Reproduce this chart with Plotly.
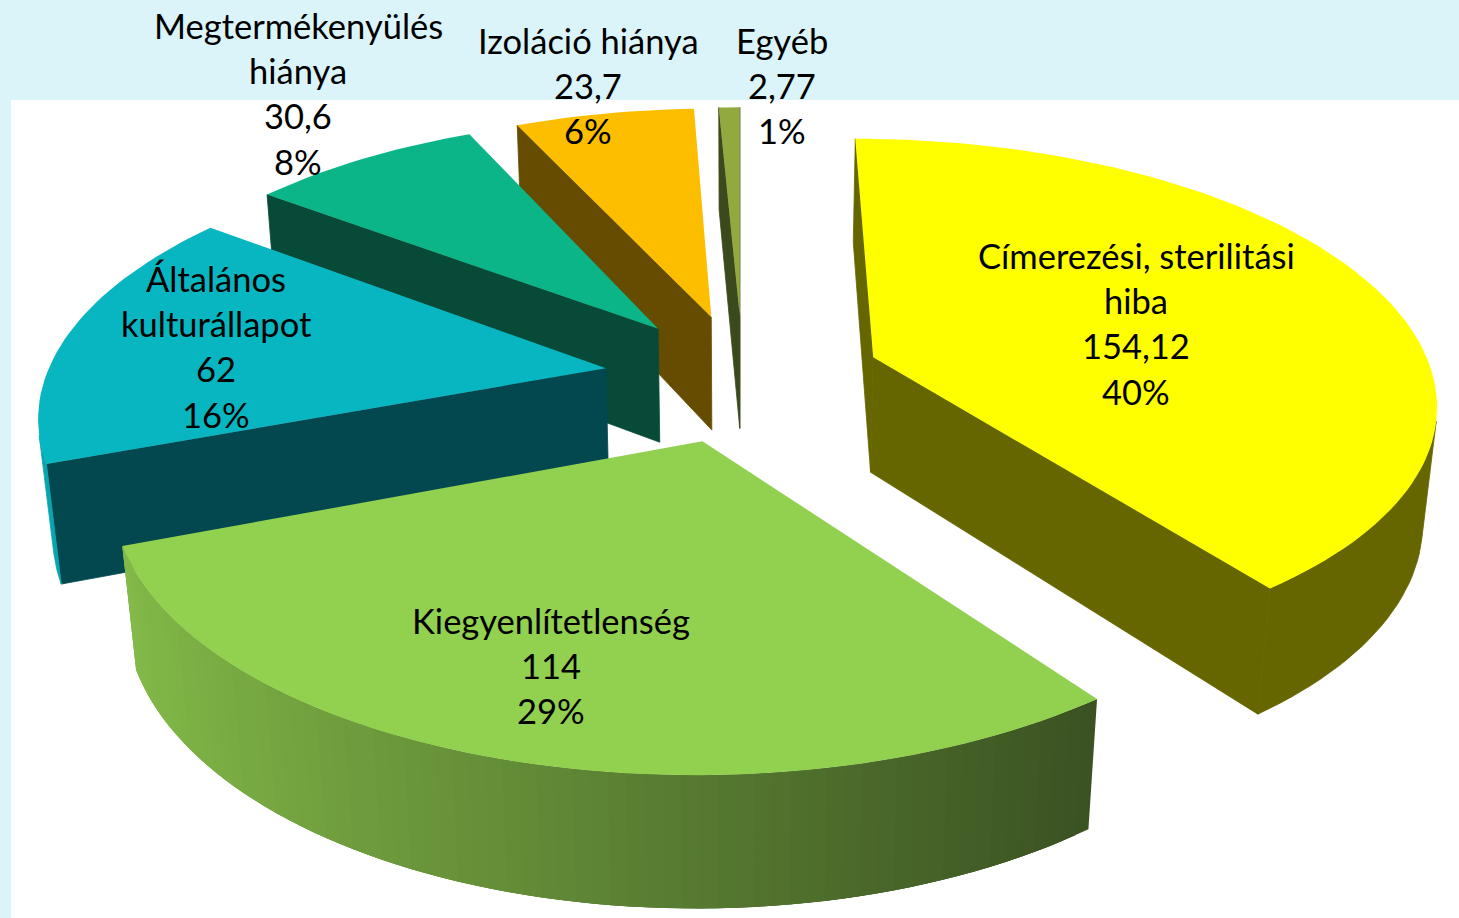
import numpy as np
import plotly.graph_objects as go

# --- data ---
categories = ["Címerezési, sterilitási|hiba", "Kiegyenlítetlenség", "Általános|kulturállapot",
              "Megtermékenyülés|hiánya", "Izoláció hiánya", "Egyéb"]
values = [154.12, 114, 62, 30.6, 23.7, 2.77]

# --- styles ---
top_colors = ["#FFFF00", "#92D050", "#08B6C1", "#0BB587", "#FDBE00", "#92A93F"]
wall_colors = ["#666600", "#3B5222", "#03474F", "#084A38", "#664C00", "#3B4A1C"]
arc_colors = ["#666600", None, "#07A5B0", "#084A38", "#664C00", "#3B4A1C"]
label_pos = [(1136, 255), (551, 620), (216, 278), (298, 25), (588, 40), (782, 40)]
draw_order = [5, 4, 3, 2, 0, 1]
LINE_H = 45.4
FONT = "Lato"
FONT_SIZE = 34.5

# --- 3D pie geometry (pinhole camera) ---
F = 3113.0
THETA = np.radians(29.0)
PX, PY = 740.0, 459.0
D = 3113.0
COS, SIN = np.cos(THETA), np.sin(THETA)
R, PULL, DEPTH = 588.0, 146.0, 140.0
CX, CY = 3.0, 177.0
CAM = np.array([0.0, -D * COS, D * SIN])


def project(x, y, z):
    depth = D + y * COS - z * SIN
    up = y * SIN + z * COS
    return PX + F * x / depth, PY - F * up / depth


def facing(normal, point):
    return np.dot(normal, CAM - np.array(point)) > 0


fig = go.Figure()


def poly(points, color, edge=0.0):
    xy = [project(*p) for p in points]
    xs = [a for a, _ in xy] + [xy[0][0]]
    ys = [b for _, b in xy] + [xy[0][1]]
    fig.add_trace(go.Scatter(x=xs, y=ys, mode="lines", fill="toself", fillcolor=color,
                             line=dict(color=color, width=edge), hoverinfo="skip",
                             showlegend=False))


def mix(c1, c2, t):
    a = [int(c1[i:i + 2], 16) for i in (1, 3, 5)]
    b = [int(c2[i:i + 2], 16) for i in (1, 3, 5)]
    return "#%02X%02X%02X" % tuple(int(round(u + (v - u) * t)) for u, v in zip(a, b))


total = sum(values)
edges = np.concatenate([[0.0], np.cumsum(values)]) / total * 2 * np.pi

for i in draw_order:
    a0, a1 = edges[i], edges[i + 1]
    mid = (a0 + a1) / 2
    ax, ay = CX + PULL * np.sin(mid), CY + PULL * np.cos(mid)
    n = max(4, int(np.degrees(a1 - a0) / 1.5))
    angs = np.linspace(a0, a1, n + 1)
    rim = [(ax + R * np.sin(t), ay + R * np.cos(t)) for t in angs]

    # start and end radial walls
    if facing([-np.cos(a0), np.sin(a0), 0], (ax, ay, 0)):
        poly([(ax, ay, 0), rim[0] + (0,), rim[0] + (-DEPTH,), (ax, ay, -DEPTH)], wall_colors[i], 0.8)
    if facing([np.cos(a1), -np.sin(a1), 0], (ax, ay, 0)):
        poly([(ax, ay, 0), rim[-1] + (0,), rim[-1] + (-DEPTH,), (ax, ay, -DEPTH)], wall_colors[i], 0.8)

    # outer wall
    vis = [k for k in range(n) if facing([np.sin((angs[k] + angs[k + 1]) / 2),
                                          np.cos((angs[k] + angs[k + 1]) / 2), 0],
                                         rim[k] + (0,))]
    if vis:
        first, last = vis[0], vis[-1] + 1
        if i == 1:
            # shaded strip by strip, each overlapping the next so no seams show
            for k in vis:
                t = (rim[k][0] - rim[first][0]) / (rim[last][0] - rim[first][0])
                stop = min(k + 3, last)
                arc = rim[k:stop + 1]
                poly([p + (0,) for p in arc] + [p + (-DEPTH,) for p in arc[::-1]],
                     mix("#3B5222", "#83BA48", t))
        else:
            arc = rim[first:last + 1]
            poly([p + (0,) for p in arc] + [p + (-DEPTH,) for p in arc[::-1]], arc_colors[i], 0.8)

    # top face
    poly([(ax, ay, 0)] + [p + (0,) for p in rim], top_colors[i])

# --- labels ---
annotations = []
for i, name in enumerate(categories):
    lines = name.split("|") + [str(values[i]).replace(".", ","),
                               "%d%%" % round(values[i] / total * 100)]
    lx, ly = label_pos[i]
    for j, t in enumerate(lines):
        annotations.append(dict(x=lx, y=ly + j * LINE_H, text=t, showarrow=False,
                                xanchor="center", yanchor="middle",
                                font=dict(family=FONT, size=FONT_SIZE, color="#000000")))

fig.update_layout(
    width=1459, height=918, margin=dict(l=0, r=0, t=0, b=0),
    paper_bgcolor="#DAF4F9", plot_bgcolor="rgba(0,0,0,0)",
    xaxis=dict(range=[0, 1459], visible=False, fixedrange=True),
    yaxis=dict(range=[918, 0], visible=False, fixedrange=True),
    shapes=[dict(type="rect", xref="x", yref="y", x0=11, x1=1459, y0=100, y1=918,
                 fillcolor="#FFFFFF", line_width=0, layer="below")],
    annotations=annotations,
)
fig.write_html("out.html", config={"displayModeBar": False},
               post_script="document.body.style.margin='0';document.body.style.background='#DAF4F9';")
